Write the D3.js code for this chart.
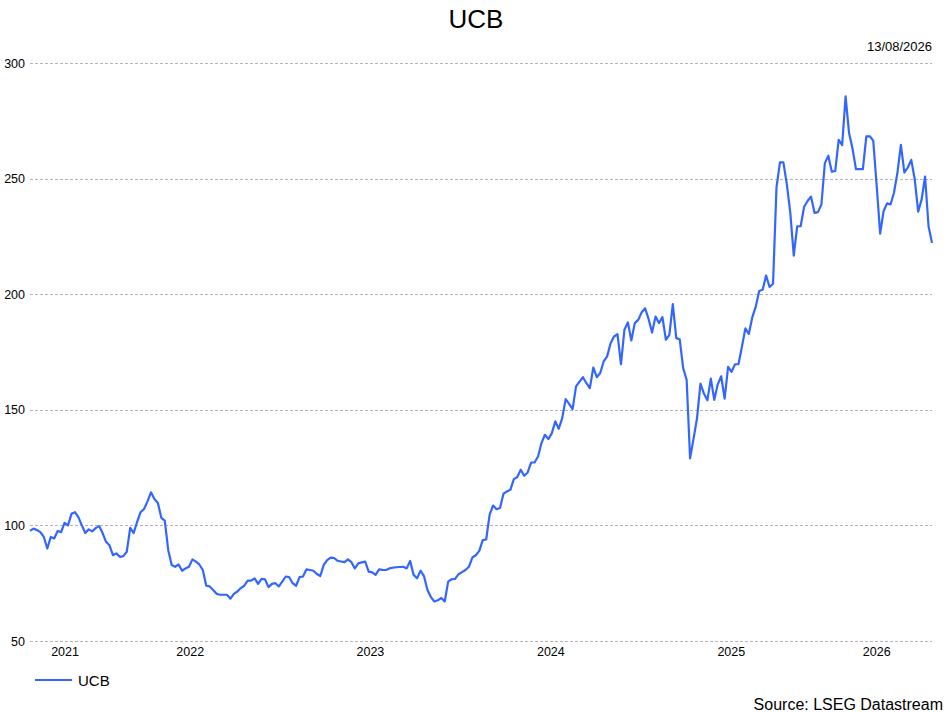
<!DOCTYPE html>
<html>
<head>
<meta charset="utf-8">
<script src="https://cdn.jsdelivr.net/npm/d3@7/dist/d3.min.js"></script>
<style>
  html, body { margin: 0; padding: 0; background: #fff; }
  svg { display: block; font-family: "Liberation Sans", Arial, sans-serif; }
</style>
</head>
<body>
<svg id="chart" width="950" height="712"></svg>
<script>
// ---- data ----
const title = "UCB";
const seriesName = "UCB";
const lastDate = "2026-08-13";
const dateLabel = "13/08/2026";
const sourceText = "Source: LSEG Datastream";
const yTicks = [50, 100, 150, 200, 250, 300];
const yearLabels = ["2021", "2022", "2023", "2024", "2025", "2026"];
// weekly closes, oldest first, last one on lastDate
const weeklyClose = [
  97.6, 98.6, 98, 97.1, 95, 90, 95, 94.3, 97.6, 97.1,
  101.1, 100, 105, 105.7, 103.6, 100, 96.7, 98.3, 97.4, 98.8,
  99.7, 96.7, 92.9, 91.4, 87.1, 87.9, 86.4, 86.7, 88.6, 98.9,
  96.7, 101.5, 105.7, 107.1, 110.4, 114.3, 111.4, 109.7, 103.3, 102.1,
  89.3, 82.9, 82.1, 83.1, 80.4, 81.4, 82.1, 85.3, 84.3, 83.1,
  80.7, 73.9, 73.6, 72.1, 70.4, 70, 70, 70, 68.3, 70.4,
  71.4, 72.9, 73.9, 76.1, 76.1, 77.1, 74.7, 76.9, 76.7, 73.3,
  74.7, 75, 73.6, 75.7, 77.9, 77.6, 75, 73.9, 77.6, 77.9,
  81, 80.7, 80.4, 79, 78.1, 82.9, 85, 86.1, 85.9, 84.7,
  84.4, 84.1, 85.3, 84.1, 81.4, 83.6, 84, 84.3, 80, 79.7,
  78.6, 81, 80.8, 80.7, 81.4, 81.7, 81.9, 82, 82.1, 81.4,
  84.6, 78.6, 77.1, 80.4, 78.1, 72.1, 69, 67.1, 67.6, 68.6,
  67.1, 75.7, 76.7, 76.9, 78.9, 79.8, 80.7, 82.1, 86.1, 87.1,
  89, 93.6, 93.9, 104.7, 108.6, 107, 107.5, 113.7, 114.7, 115.4,
  120, 120.9, 124.1, 121.5, 122.9, 127.2, 127.2, 129.8, 135.6, 139.2,
  137.3, 139.9, 145, 141.8, 146.4, 154.6, 152.6, 150.3, 160.1, 162.2,
  164.1, 161.5, 159.4, 168.3, 164.1, 165.9, 170.9, 173.1, 178.8, 181.7,
  182.7, 169.7, 184.6, 187.8, 180, 187.5, 188.9, 192.2, 193.9, 189.2,
  183.4, 190.3, 187.5, 190.1, 180.3, 182.4, 195.7, 181, 180.5, 168,
  163, 129, 137.5, 146.3, 161.3, 157, 154.1, 163.5, 154.3, 161,
  164.5, 154.8, 168.6, 166.4, 169.7, 169.7, 177.3, 185.2, 182.8, 190,
  194.6, 201.4, 201.9, 208.1, 203.1, 204.5, 246.1, 257, 257, 247.5,
  235.2, 216.7, 229.4, 229.4, 237.8, 240.3, 242.2, 235.2, 235.5, 238.8,
  256.7, 259.9, 253, 253.3, 266.8, 264.5, 285.6, 269.7, 263, 254.1,
  254.1, 254.1, 268.3, 268.3, 266.4, 246.8, 226.2, 236, 239.3, 238.8,
  243.9, 252.6, 264.6, 252.6, 254.8, 258.1, 249.7, 235.7, 241, 250.9,
  229.4, 222.2
];

// ---- layout ----
const W = 950, H = 712;
const plot = { left: 30, right: 932, top: 63, bottom: 641 };
const lineColor = "#3366ff";
const gridColor = "#b4b4b4";
const textColor = "#000";

const svg = d3.select("#chart");
const end = d3.isoParse(lastDate + "T00:00:00");
const N = weeklyClose.length;
const data = weeklyClose.map((v, i) => ({
  date: d3.timeDay.offset(end, -7 * (N - 1 - i)),
  value: v
}));

const x = d3.scaleTime()
  .domain(d3.extent(data, d => d.date))
  .range([plot.left, plot.right]);
const y = d3.scaleLinear()
  .domain([d3.min(yTicks), d3.max(yTicks)])
  .range([plot.bottom, plot.top]);

// gridlines + y labels
const yAxis = d3.axisLeft(y)
  .tickValues(yTicks)
  .tickSize(-(plot.right - plot.left))
  .tickPadding(5)
  .tickFormat(d3.format("d"));
const gy = svg.append("g")
  .attr("transform", `translate(${plot.left},0)`)
  .call(yAxis);
gy.select(".domain").remove();
gy.selectAll(".tick line")
  .attr("stroke", gridColor)
  .attr("stroke-width", 1)
  .attr("stroke-dasharray", "3,2")
  .attr("shape-rendering", "crispEdges");
gy.selectAll(".tick text")
  .attr("fill", textColor)
  .attr("font-size", 12.5)
  .attr("font-family", "Liberation Sans, Arial, sans-serif");

// year labels centred in the visible part of each year
const [d0, d1] = x.domain();
const gx = svg.append("g");
yearLabels.forEach(lbl => {
  const ys = new Date(+lbl, 0, 1);
  const ye = new Date(+lbl + 1, 0, 1);
  const a = ys < d0 ? d0 : ys;
  const b = ye > d1 ? d1 : ye;
  gx.append("text")
    .attr("x", (x(a) + x(b)) / 2)
    .attr("y", 656)
    .attr("text-anchor", "middle")
    .attr("font-size", 12.5)
    .attr("fill", textColor)
    .text(lbl);
});

// the line
const line = d3.line()
  .x(d => x(d.date))
  .y(d => y(d.value));
svg.append("path")
  .datum(data)
  .attr("fill", "none")
  .attr("stroke", lineColor)
  .attr("stroke-width", 2.2)
  .attr("stroke-linejoin", "round")
  .attr("d", line);

// title
svg.append("text")
  .attr("x", 476).attr("y", 28)
  .attr("text-anchor", "middle")
  .attr("font-size", 26)
  .attr("fill", textColor)
  .text(title);

// date
svg.append("text")
  .attr("x", plot.right).attr("y", 51)
  .attr("text-anchor", "end")
  .attr("font-size", 13)
  .attr("fill", textColor)
  .text(dateLabel);

// legend
svg.append("line")
  .attr("x1", 35).attr("x2", 72)
  .attr("y1", 680).attr("y2", 680)
  .attr("stroke", lineColor)
  .attr("stroke-width", 2.2);
svg.append("text")
  .attr("x", 78).attr("y", 686)
  .attr("font-size", 15)
  .attr("fill", textColor)
  .text(seriesName);

// source
svg.append("text")
  .attr("x", 943).attr("y", 710)
  .attr("text-anchor", "end")
  .attr("font-size", 16)
  .attr("fill", textColor)
  .text(sourceText);
</script>
</body>
</html>
